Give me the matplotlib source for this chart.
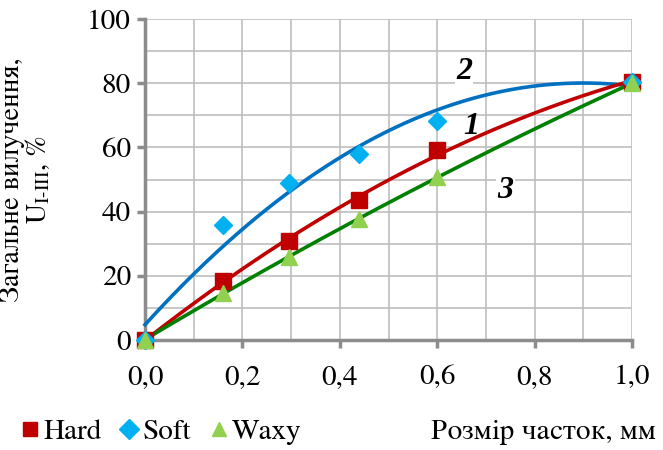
import numpy as np
import matplotlib
matplotlib.use("Agg")
import matplotlib.pyplot as plt
from matplotlib.ticker import MultipleLocator, FuncFormatter
from matplotlib import font_manager
from matplotlib.ft2font import FT2Font

x_vals = [0.0, 0.16, 0.295, 0.44, 0.6, 1.0]
hard = [0.0, 18.5, 30.8, 43.6, 59.2, 80.5]
soft = [0.0, 35.8, 48.9, 57.8, 68.1, 80.5]
waxy = [0.0, 14.7, 26.0, 37.6, 50.7, 80.0]
series_names = ["Hard", "Soft", "Waxy"]
curve_labels = ["1", "2", "3"]


def covers(family, text):
    try:
        path = font_manager.findfont(font_manager.FontProperties(family=family), fallback_to_default=False)
        cmap = FT2Font(path).get_charmap()
        return all(ord(ch) in cmap for ch in text if not ch.isspace())
    except Exception:
        return False


CYR = "Загальневилученнярозмірчастокмм,%Р"
FAM = next((n for n in ['STIXGeneral', 'Liberation Serif', 'Tinos', 'DejaVu Serif'] if covers(n, CYR)), 'serif')
FAM_BI = 'Liberation Serif'

fig = plt.figure(figsize=(6.63, 4.5), dpi=100)
ax = fig.add_axes([145/663, 1-340/450, (632-145)/663, (340-19)/450])

xs = np.array(x_vals)
xx = np.linspace(0, 1, 200)
# trend lines (2nd order polynomial fits)
for ys, c in [(soft, '#0070C0'), (hard, '#C00000'), (waxy, '#008000')]:
    p = np.polyfit(xs, np.array(ys), 2)
    ax.plot(xx, np.polyval(p, xx), color=c, lw=2.6, zorder=3, clip_on=False)

ax.plot(xs, hard, 's', color='#C00000', ms=12, zorder=4, clip_on=False, label=series_names[0])
ax.plot(xs, soft, 'D', color='#00B0F0', ms=9, zorder=4, clip_on=False, label=series_names[1])
ax.plot(xs, waxy, '^', color='#92D050', ms=12, zorder=4, clip_on=False, label=series_names[2])

ax.set_xlim(0, 1.0)
ax.set_ylim(0, 100)
ax.xaxis.set_major_locator(MultipleLocator(0.2))
ax.xaxis.set_minor_locator(MultipleLocator(0.1))
ax.yaxis.set_major_locator(MultipleLocator(20))
ax.yaxis.set_minor_locator(MultipleLocator(10))
ax.xaxis.set_major_formatter(FuncFormatter(lambda v, p: f"{v:.1f}".replace('.', ',')))
ax.grid(True, which='both', color='#BFBFBF', lw=1.2, zorder=0)
for s in ['top', 'right']:
    ax.spines[s].set_visible(False)
for s in ['left', 'bottom']:
    ax.spines[s].set_color('#8C8C8C')
    ax.spines[s].set_linewidth(2.5)
ax.tick_params(which='major', length=6, width=2.5, color='#8C8C8C', pad=4, labelsize=21)
ax.tick_params(which='minor', length=0)
ax.tick_params(axis='x', pad=12)
ax.set_axisbelow(True)
for lab in ax.get_xticklabels() + ax.get_yticklabels():
    lab.set_family(FAM)

ax.set_ylabel("Загальне вилучення,\nU$_{\\mathrm{I\\text{-}III}}$, %", family=FAM, fontsize=20,
              linespacing=0.95, math_fontfamily='stix')
ax.yaxis.set_label_coords(-0.19, 0.5)

# curve number labels
bbox = dict(facecolor='white', edgecolor='none', pad=1)
kw = dict(family=FAM_BI, fontsize=23, style='italic', fontweight='bold', ha='center', va='center', zorder=5)
ax.text(0.655, 83.5, curve_labels[1], bbox=bbox, **kw)
ax.text(0.67, 66.5, curve_labels[0], **kw)
ax.text(0.74, 46.5, curve_labels[2], bbox=bbox, **kw)

handles, labels = ax.get_legend_handles_labels()
leg = fig.legend(handles, labels, loc='center left', bbox_to_anchor=(0.03, 1-432/450), ncol=3,
                 frameon=False, prop=dict(family=FAM, size=21), handlelength=0.7, handletextpad=0.1,
                 columnspacing=0.6, borderaxespad=0, borderpad=0)
for h in leg.legend_handles:
    h.set_markersize(10)
fig.text(0.99, 1-432/450, "Розмір часток, мм", family=FAM, fontsize=21, ha='right', va='center')

fig.savefig("out.png", dpi=100)
